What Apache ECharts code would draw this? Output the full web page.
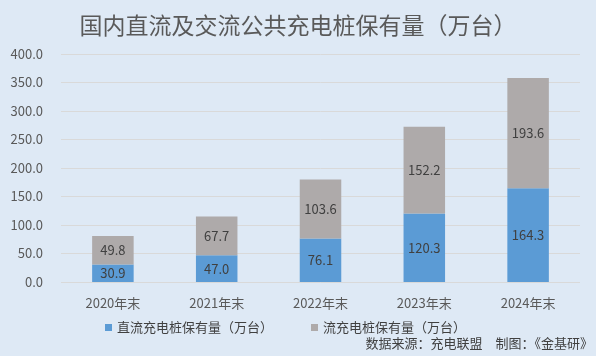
<!DOCTYPE html>
<html><head><meta charset="utf-8">
<script src="https://cdn.jsdelivr.net/npm/echarts@6/dist/echarts.min.js"></script>
<style>html,body{margin:0;padding:0;background:#dee9f5;}#c{width:596px;height:356px;}</style>
</head><body><div id="c"></div>
<script>
const categories = ['2020年末','2021年末','2022年末','2023年末','2024年末'];
const dcValues = [30.9, 47.0, 76.1, 120.3, 164.3];
const acValues = [49.8, 67.7, 103.6, 152.2, 193.6];
const seriesNames = ['直流充电桩保有量（万台）','流充电桩保有量（万台）'];
const titleText = '国内直流及交流公共充电桩保有量（万台）';
const sourceText = '数据来源：充电联盟　制图：《金基研》';

const font = '"Noto Sans CJK SC", sans-serif';
const chart = echarts.init(document.getElementById('c'));
const lbl = {show:true, position:'inside', color:'#404040', fontSize:13, fontFamily:font, formatter: p => p.value.toFixed(1)};
chart.setOption({
  backgroundColor:'#dee9f5',
  animation:false,
  title:{text:titleText, left:'center', top:9, textStyle:{color:'#595959', fontSize:23, fontWeight:'normal', fontFamily:font}},
  graphic:[{type:'text', right:3, top:337, style:{text:sourceText, fill:'#404040', fontSize:13, fontFamily:font}}],
  legend:{data:seriesNames, top:316, left:100, itemWidth:7, itemHeight:7, itemGap:38, icon:'rect',
    textStyle:{color:'#404040', fontSize:13, fontFamily:font}},
  grid:{left:61, right:16, top:54, bottom:74},
  xAxis:{type:'category', data:categories, axisLine:{show:false}, axisTick:{show:false},
    axisLabel:{color:'#595959', fontSize:13, fontFamily:font, margin:15}},
  yAxis:{type:'value', min:0, max:400, interval:50,
    axisLabel:{color:'#595959', fontSize:13, fontFamily:font, formatter: v => v.toFixed(1), margin:18},
    splitLine:{lineStyle:{color:'#d9d9d9', width:1}}},
  series:[
    {name:seriesNames[0], type:'bar', stack:'a', data:dcValues, barWidth:'40%', itemStyle:{color:'#5b9bd5'}, label:lbl},
    {name:seriesNames[1], type:'bar', stack:'a', data:acValues, barWidth:'40%', itemStyle:{color:'#aeaaaa'}, label:lbl}
  ]
});
</script></body></html>
